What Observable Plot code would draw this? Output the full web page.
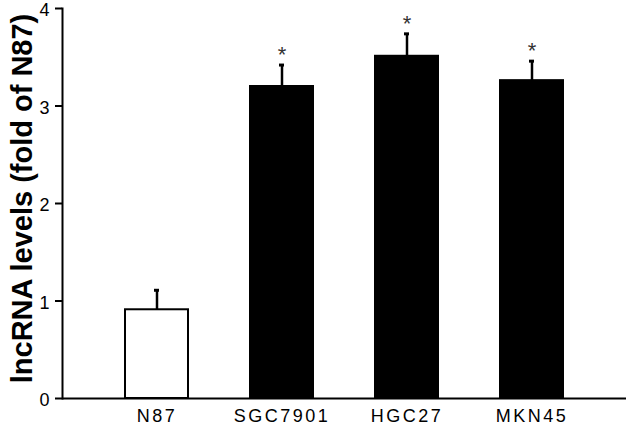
<!DOCTYPE html>
<html><head><meta charset="utf-8">
<script src="https://cdn.jsdelivr.net/npm/d3@7"></script>
<script src="https://cdn.jsdelivr.net/npm/@observablehq/plot@0.6"></script>
<style>
body{margin:0;background:#fff}
svg g[aria-label="x-axis tick label"] text{letter-spacing:2.5px}
svg g[aria-label="y-axis tick label"] text{letter-spacing:1px}
</style>
</head><body><div id="chart"></div>
<script>
const categories = ["N87", "SGC7901", "HGC27", "MKN45"];
const values = [0.91, 3.2, 3.51, 3.26];
const errors = [0.2, 0.22, 0.23, 0.2];
const fills = ["white", "black", "black", "black"];
const marks = ["", "*", "*", "*"];
const yTicks = [0, 1, 2, 3, 4];
const yLabel = "lncRNA levels (fold of N87)";

const data = categories.map((c, i) => ({c, v: values[i], e: errors[i], f: fills[i], m: marks[i]}));

const chart = Plot.plot({
  width: 626, height: 425,
  marginLeft: 62, marginRight: 0, marginTop: 8, marginBottom: 27,
  style: {fontFamily: "Liberation Sans, Arial, sans-serif", color: "black", background: "white"},
  x: {domain: categories, padding: 0.5, label: null},
  y: {domain: [0, 4], label: null},
  marks: [
    Plot.axisX({fontSize: 18, tickSize: 0, tickPadding: 11, label: null}),
    Plot.axisY({ticks: yTicks, tickFormat: () => "", tickSize: 7, strokeWidth: 2, label: null}),
    Plot.axisY({ticks: yTicks, tickFormat: "d", fontSize: 18, tickSize: 0, tickPadding: 12, dy: 2, label: null}),
    Plot.ruleX(data, {x: "c", y1: "v", y2: d => d.v + d.e, stroke: "black", strokeWidth: 2.5}),
    Plot.tickY(data, {x: "c", y: d => d.v + d.e, stroke: "black", strokeWidth: 3, insetLeft: 29, insetRight: 29}),
    Plot.barY(data, {x: "c", y: "v", fill: "f", stroke: "black", strokeWidth: 2}),
    Plot.text(data, {x: "c", y: d => d.v + d.e, text: "m", dy: -10, fontSize: 22, fill: "#333"}),
    Plot.text([yLabel], {frameAnchor: "left", dx: -40, dy: -5, rotate: -90, textAnchor: "middle", fontSize: 29, fontWeight: "bold", fill: "black"}),
    Plot.frame({anchor: "left", stroke: "black", strokeWidth: 2}),
    Plot.ruleY([0], {stroke: "black", strokeWidth: 2})
  ]
});
document.getElementById("chart").appendChild(chart);
</script>
</body></html>
